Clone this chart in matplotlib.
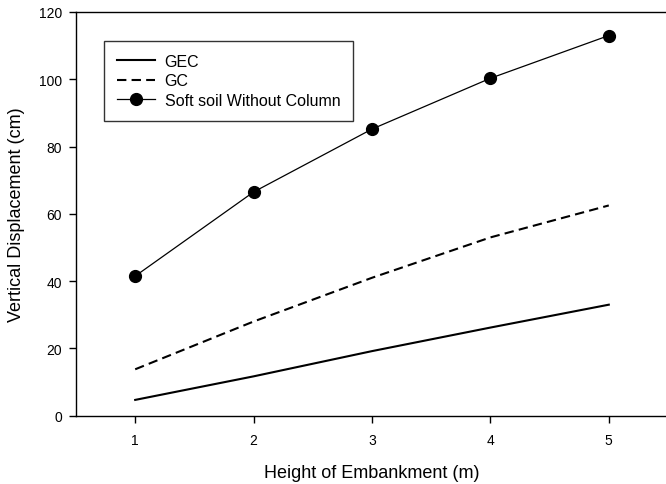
import matplotlib.pyplot as plt

plt.rcParams['font.family'] = ['Liberation Sans', 'DejaVu Sans']

height = [1, 2, 3, 4, 5]
gec = [4.7, 11.7, 19.2, 26.2, 33.0]
gc = [13.8, 28.0, 41.0, 53.0, 62.5]
soft = [41.5, 66.5, 85.2, 100.3, 113.0]


def main():
    fig = plt.figure(figsize=(6.66, 4.85), dpi=100)
    # axes runs a little past the right edge of the picture, as in the original
    ax = fig.add_axes([0.1141, 0.1408, 0.8889, 0.8324])

    ax.plot(height, gec, color='black', lw=1.5, label='GEC')
    ax.plot(height, gc, color='black', lw=1.5, ls=(0, (4.5, 2.5)), label='GC')
    ax.plot(height, soft, color='black', lw=0.9, marker='o', ms=8.5,
            label='Soft soil Without Column')

    ax.set_xlim(0.5, 5.5)
    ax.set_ylim(0, 120)
    ax.set_xticks(height)
    ax.set_yticks(range(0, 121, 20))
    ax.spines['right'].set_visible(False)
    for s in ax.spines.values():
        s.set_linewidth(1.0)
    ax.tick_params(direction='out', length=5, width=1, labelsize=10, pad=5)
    ax.tick_params(axis='x', pad=7.5)

    ax.set_xlabel('Height of Embankment (m)', fontsize=13, labelpad=12)
    ax.set_ylabel('Vertical Displacement (cm)', fontsize=13, labelpad=10)

    leg = ax.legend(loc='upper left', bbox_to_anchor=(0.0473, 0.928),
                    fontsize=11.5, frameon=True, fancybox=False,
                    handlelength=2.4, handletextpad=0.6, borderpad=0.8,
                    labelspacing=0.28, borderaxespad=0)
    leg.get_frame().set_edgecolor('black')
    leg.get_frame().set_linewidth(1.0)

    fig.savefig('out.png', dpi=100)


if __name__ == '__main__':
    main()
